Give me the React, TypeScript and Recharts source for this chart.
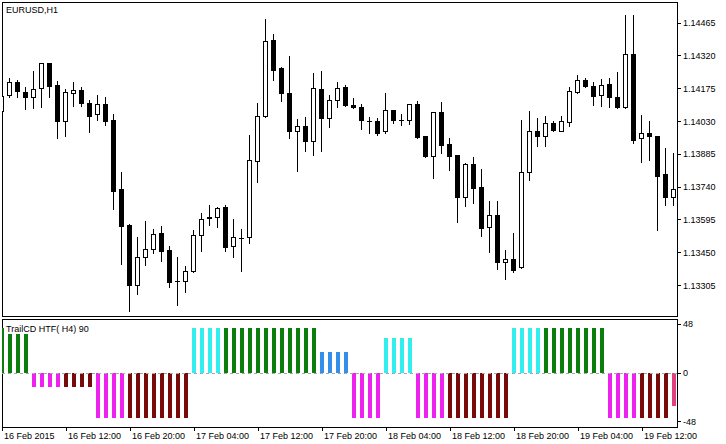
import React from "react";
import { ComposedChart, Bar, XAxis, YAxis, Cell, ReferenceLine, ReferenceArea } from "recharts";

const FONT = "'Liberation Sans', Arial, sans-serif";

// EURUSD H1 candles, bar 0 = 16 Feb 2015 04:00
const openPrices = [
  1.14077, 1.14147, 1.14204, 1.14158, 1.14136, 1.14176, 1.14288, 1.14191, 1.1403, 1.14157,
  1.14169, 1.14111, 1.14061, 1.14107, 1.14036, 1.13731, 1.13572, 1.13308, 1.13432, 1.13464,
  1.13537, 1.13461, 1.13326, 1.13326, 1.13367, 1.13528, 1.13609, 1.13606, 1.13653, 1.13478,
  1.13513, 1.13517, 1.13853, 1.14055, 1.1439, 1.14266, 1.14156, 1.13989, 1.14008, 1.13942,
  1.14173, 1.14044, 1.14126, 1.14184, 1.14103, 1.14092, 1.14032, 1.1403, 1.13986, 1.1408,
  1.14038, 1.14038, 1.14107, 1.13964, 1.13878, 1.1407, 1.1393, 1.13881, 1.13697, 1.13842,
  1.13741, 1.13562, 1.13616, 1.13407, 1.13422, 1.13385, 1.13805, 1.13986, 1.13964, 1.14021,
  1.13989, 1.14029, 1.14161, 1.14215, 1.14185, 1.14148, 1.14195, 1.14136, 1.14092, 1.14328,
  1.13955, 1.13979, 1.13964, 1.13797, 1.13694,
];
const highPrices = [
  1.14151, 1.14222, 1.14213, 1.14181, 1.14253, 1.1429, 1.1429, 1.1421, 1.14172, 1.14203,
  1.14181, 1.14125, 1.14148, 1.14136, 1.14063, 1.13805, 1.13575, 1.1352, 1.13591, 1.13554,
  1.13568, 1.13479, 1.13429, 1.13389, 1.1355, 1.13625, 1.1366, 1.1365, 1.1366, 1.13599,
  1.13554, 1.1397, 1.14111, 1.14483, 1.14416, 1.14272, 1.14318, 1.14041, 1.14048, 1.14243,
  1.14251, 1.14147, 1.14204, 1.14192, 1.14133, 1.14107, 1.14048, 1.14044, 1.14156, 1.14082,
  1.14063, 1.14109, 1.14119, 1.13966, 1.14072, 1.14114, 1.13957, 1.13883, 1.13846, 1.13871,
  1.1382, 1.13677, 1.13677, 1.13461, 1.13537, 1.14036, 1.14074, 1.14045, 1.14052, 1.14033,
  1.14052, 1.14181, 1.14237, 1.1422, 1.14203, 1.14217, 1.14222, 1.14247, 1.145, 1.145,
  1.14058, 1.1403, 1.13966, 1.13912, 1.13889,
];
const lowPrices = [
  1.1407, 1.14139, 1.14136, 1.14085, 1.14091, 1.14095, 1.14139, 1.13955, 1.13967, 1.141,
  1.141, 1.13985, 1.14038, 1.14016, 1.13643, 1.13402, 1.13193, 1.13267, 1.13397, 1.1345,
  1.13414, 1.13299, 1.13218, 1.13277, 1.13365, 1.13459, 1.13573, 1.13565, 1.13459, 1.13432,
  1.1337, 1.13492, 1.13764, 1.1405, 1.14214, 1.14119, 1.13955, 1.13812, 1.13901, 1.13883,
  1.13901, 1.14004, 1.14092, 1.141, 1.1409, 1.13996, 1.13977, 1.13971, 1.13977, 1.14024,
  1.14014, 1.14018, 1.13955, 1.13871, 1.13778, 1.13889, 1.13817, 1.13587, 1.13657, 1.13669,
  1.13525, 1.13454, 1.13377, 1.13333, 1.13363, 1.13383, 1.13772, 1.13923, 1.13923, 1.13989,
  1.13987, 1.14011, 1.14156, 1.14181, 1.14104, 1.141, 1.14092, 1.14089, 1.1409, 1.13935,
  1.13852, 1.13861, 1.13551, 1.13662, 1.13662,
];
const closePrices = [
  1.14144, 1.14203, 1.14163, 1.14136, 1.14172, 1.14287, 1.14188, 1.14033, 1.14158, 1.14167,
  1.1411, 1.14052, 1.14107, 1.14033, 1.13724, 1.13569, 1.13308, 1.13429, 1.13464, 1.13532,
  1.13459, 1.13321, 1.13326, 1.13367, 1.13528, 1.13599, 1.13601, 1.13647, 1.13476, 1.13517,
  1.13513, 1.13859, 1.14052, 1.14384, 1.14259, 1.14154, 1.13989, 1.14008, 1.13942, 1.14176,
  1.14044, 1.14126, 1.14176, 1.14104, 1.14092, 1.14038, 1.14032, 1.13979, 1.1408, 1.14038,
  1.14038, 1.14107, 1.13962, 1.13878, 1.1407, 1.13927, 1.13878, 1.13697, 1.13842, 1.13738,
  1.13557, 1.13616, 1.13407, 1.13422, 1.13373, 1.13805, 1.13986, 1.13964, 1.14021, 1.13993,
  1.14033, 1.14163, 1.14213, 1.14185, 1.14144, 1.14192, 1.14136, 1.14095, 1.14328, 1.13949,
  1.13979, 1.13964, 1.1379, 1.13694, 1.13731,
];

// TrailCD HTF(H4) 90 histogram
const trailValues = [
  44, 38, 38, 38, -14, -14, -14, -14, -14, -14,
  -14, -14, -44, -44, -44, -44, -44, -44, -44, -44,
  -44, -44, -44, -44, 44, 44, 44, 44, 44, 44,
  44, 44, 44, 44, 44, 44, 44, 44, 44, 44,
  21, 21, 21, 21, -44, -44, -44, -44, 34, 34,
  34, 34, -44, -44, -44, -44, -44, -44, -44, -44,
  -44, -44, -44, -44, 44, 44, 44, 44, 44, 44,
  44, 44, 44, 44, 44, 44, -44, -44, -44, -44,
  -44, -44, -44, -44, -33,
];
const trailStates = [
  "bull", "bull", "bull", "bull", "bearNew", "bearNew", "bearNew", "bearNew", "bear", "bear",
  "bear", "bear", "bearNew", "bearNew", "bearNew", "bearNew", "bear", "bear", "bear", "bear",
  "bear", "bear", "bear", "bear", "bullNew", "bullNew", "bullNew", "bullNew", "bull", "bull",
  "bull", "bull", "bull", "bull", "bull", "bull", "bull", "bull", "bull", "bull",
  "bullWeak", "bullWeak", "bullWeak", "bullWeak", "bearNew", "bearNew", "bearNew", "bearNew", "bullNew", "bullNew",
  "bullNew", "bullNew", "bearNew", "bearNew", "bearNew", "bearNew", "bear", "bear", "bear", "bear",
  "bear", "bear", "bear", "bear", "bullNew", "bullNew", "bullNew", "bullNew", "bull", "bull",
  "bull", "bull", "bull", "bull", "bull", "bull", "bearNew", "bearNew", "bearNew", "bearNew",
  "bear", "bear", "bear", "bear", "bearLive",
];

const priceTicks = [1.13305, 1.1345, 1.13595, 1.1374, 1.13885, 1.1403, 1.14175, 1.1432, 1.14465];
const trailTicks = [-48, 0, 48];
const timeTickIndex = [0, 8, 16, 24, 32, 40, 48, 56, 64, 72, 80];
const timeTickLabels = [
  "16 Feb 2015", "16 Feb 12:00", "16 Feb 20:00", "17 Feb 04:00", "17 Feb 12:00", "17 Feb 20:00",
  "18 Feb 04:00", "18 Feb 12:00", "18 Feb 20:00", "19 Feb 04:00", "19 Feb 12:00",
];

const candleData = openPrices.map((o, i) => ({
  i,
  open: o,
  high: highPrices[i],
  low: lowPrices[i],
  close: closePrices[i],
  range: [lowPrices[i], highPrices[i]],
}));
const trailData = trailValues.map((v, i) => ({ i, value: v, state: trailStates[i] }));

const STATE_COLORS: Record<string, string> = {
  bullNew: "#33EEEE",
  bull: "#0A7D0A",
  bullWeak: "#3390E8",
  bearNew: "#EE22EE",
  bear: "#780A0A",
  bearLive: "#E0407F",
};

const X_DOMAIN: [number, number] = [0, 84.375];
const PRICE_DOMAIN: [number, number] = [1.1317, 1.14558];
const TRAIL_DOMAIN: [number, number] = [-53.2, 53.2];

function Candle(props: any) {
  const { x, y, width, height, payload } = props;
  if (x == null || y == null || !payload) return null;
  const { open, high, low, close } = payload;
  const col = Math.floor(x + width / 2);
  const span = high - low;
  const py = (v: number) => (span > 0 ? y + ((high - v) / span) * height : y);
  const top = Math.round(py(high));
  const bottom = Math.round(py(low));
  const bTop = Math.round(py(Math.max(open, close)));
  const bBot = Math.round(py(Math.min(open, close)));
  const parts: any[] = [];
  parts.push(<rect key="w" x={col} y={top} width={1} height={Math.max(1, bottom - top + 1)} fill="#000" />);
  if (close > open) {
    const h = bBot - bTop + 1;
    parts.push(<rect key="o" x={col - 2} y={bTop} width={5} height={Math.max(1, h)} fill="#000" />);
    if (h > 2) parts.push(<rect key="i" x={col - 1} y={bTop + 1} width={3} height={h - 2} fill="#fff" />);
  } else {
    parts.push(<rect key="b" x={col - 2} y={bTop} width={5} height={Math.max(1, bBot - bTop + 1)} fill="#000" />);
  }
  return <g>{parts}</g>;
}

function TimeTick(props: any) {
  const { x, y, payload } = props;
  const idx = timeTickIndex.indexOf(payload.value);
  return (
    <text x={x + 2} y={y + 8} textAnchor="start" fontSize={9} fontFamily={FONT} fill="#000">
      {timeTickLabels[idx]}
    </text>
  );
}

const axisTick = { fill: "#000", fontSize: 9, fontFamily: FONT };

export default function App() {
  return (
    <div style={{ position: "absolute", left: 0, top: 0, width: 726, height: 444, background: "#fff" }}>
      <style>{`svg rect, svg line, svg path { shape-rendering: crispEdges; }`}</style>
      <div style={{ position: "absolute", left: 0, top: 0 }}>
        <ComposedChart width={726} height={320} data={candleData} margin={{ top: 2, right: 4, bottom: 4, left: 2 }}>
          <XAxis dataKey="i" type="number" domain={X_DOMAIN} allowDataOverflow hide />
          <YAxis
            type="number"
            orientation="right"
            domain={PRICE_DOMAIN}
            allowDataOverflow
            ticks={priceTicks}
            interval={0}
            width={45}
            tickSize={4}
            tickMargin={2}
            axisLine={{ stroke: "#000" }}
            tickLine={{ stroke: "#000" }}
            tick={axisTick}
            tickFormatter={(v: number) => v.toFixed(5)}
          />
          <ReferenceArea
            x1={X_DOMAIN[0]}
            x2={X_DOMAIN[1]}
            y1={PRICE_DOMAIN[0]}
            y2={PRICE_DOMAIN[1]}
            fill="none"
            fillOpacity={0}
            stroke="#000"
            strokeOpacity={1}
            ifOverflow="visible"
          />
          <Bar dataKey="range" barSize={5} shape={(p: any) => <Candle {...p} />} isAnimationActive={false} />
        </ComposedChart>
      </div>
      <div style={{ position: "absolute", left: 0, top: 300 }}>
        <ComposedChart width={726} height={144} data={trailData} margin={{ top: 19, right: 4, bottom: 0, left: 2 }}>
          <XAxis
            dataKey="i"
            type="number"
            domain={X_DOMAIN}
            allowDataOverflow
            ticks={timeTickIndex}
            interval={0}
            height={17}
            tickSize={4}
            tickMargin={0}
            axisLine={{ stroke: "#000" }}
            tickLine={{ stroke: "#000" }}
            tick={(p: any) => <TimeTick {...p} />}
          />
          <YAxis
            type="number"
            orientation="right"
            domain={TRAIL_DOMAIN}
            allowDataOverflow
            ticks={trailTicks}
            interval={0}
            width={45}
            tickSize={4}
            tickMargin={2}
            axisLine={{ stroke: "#000" }}
            tickLine={{ stroke: "#000" }}
            tick={axisTick}
          />
          <ReferenceArea
            x1={X_DOMAIN[0]}
            x2={X_DOMAIN[1]}
            y1={TRAIL_DOMAIN[0]}
            y2={TRAIL_DOMAIN[1]}
            fill="none"
            fillOpacity={0}
            stroke="#000"
            strokeOpacity={1}
            ifOverflow="visible"
          />
          <ReferenceLine y={0} stroke="#A8A8A8" strokeDasharray="3 3" />
          <Bar dataKey="value" barSize={4} isAnimationActive={false}>
            {trailData.map((d, idx) => (
              <Cell key={idx} fill={STATE_COLORS[d.state]} />
            ))}
          </Bar>
        </ComposedChart>
      </div>
      <div style={{ position: "absolute", left: 6, top: 5, fontFamily: FONT, fontSize: 9, lineHeight: "10px", color: "#000" }}>
        EURUSD,H1
      </div>
      <div style={{ position: "absolute", left: 6, top: 324, fontFamily: FONT, fontSize: 9, lineHeight: "10px", color: "#000" }}>
        TrailCD HTF( H4) 90
      </div>
    </div>
  );
}
